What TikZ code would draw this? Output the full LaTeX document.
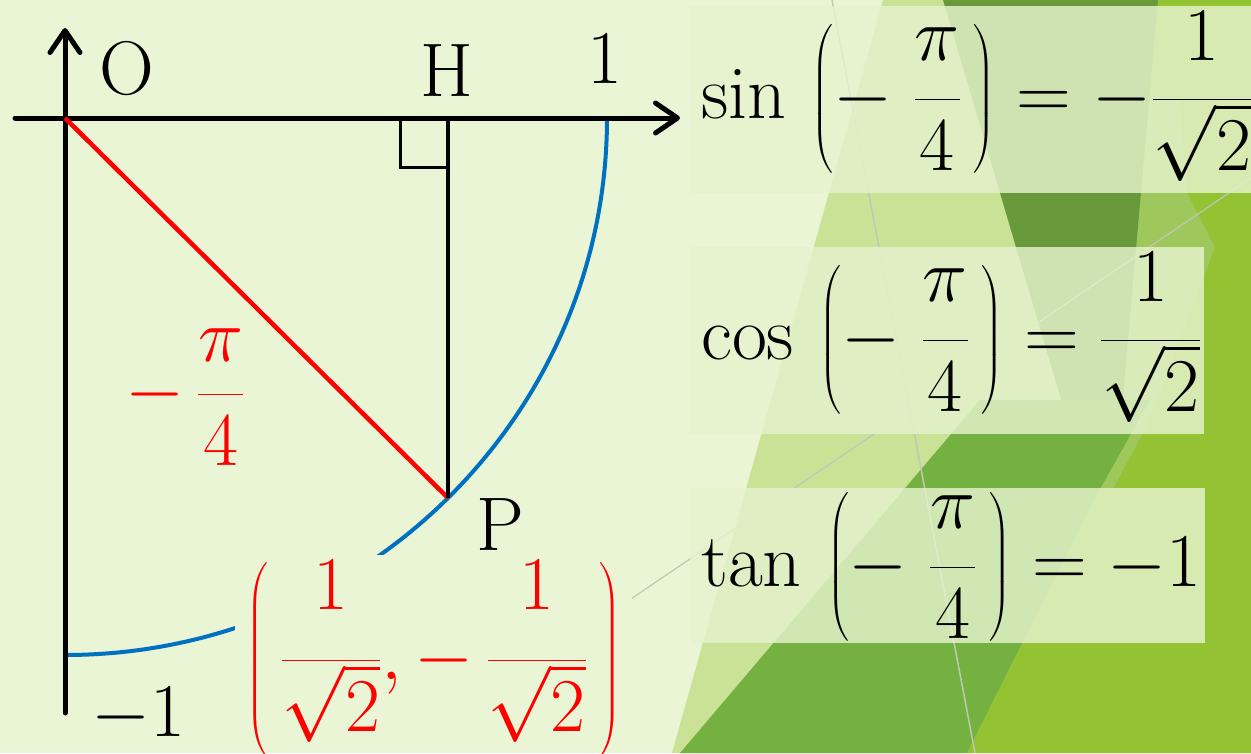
\RequirePackage{fix-cm}
\documentclass[tikz,border=0pt]{standalone}
\usepackage{amsmath}
\usepackage{fontspec}
\usetikzlibrary{arrows.meta}
\definecolor{bgc}{HTML}{EAF5D5}
\definecolor{pale}{HTML}{C9E296}
\definecolor{darkg}{HTML}{689A3B}
\definecolor{midg}{HTML}{74B141}
\definecolor{lg}{HTML}{9FC85C}
\definecolor{yg}{HTML}{93C232}
\definecolor{boxc}{HTML}{E6F3CD}
\definecolor{lineg}{HTML}{BFC7B7}
\definecolor{arcblue}{HTML}{0070C0}
\newcommand\labfont{\fontsize{76}{90}\selectfont}
\newcommand\frmfont{\fontsize{76}{90}\selectfont}
\newcommand\upn[2][6pt]{\raisebox{#1}{$\displaystyle #2$}}
\begin{document}
\begin{tikzpicture}[x=1pt,y=-1pt,
  lab/.style={inner sep=0pt, font=\labfont},
  frm/.style={inner sep=0pt, font=\frmfont, anchor=base west},
  redfrm/.style={frm, text=red},
  axisline/.style={line width=5pt, line cap=round, -{Straight Barb[length=22pt,width=30pt,round]}},
  tbox/.style={fill=boxc, fill opacity=0.82},
]
\useasboundingbox (0,0) rectangle (1251,753);
% background
\fill[bgc] (0,0) rectangle (1251,753);
\fill[pale] (883,0) -- (1251,0) -- (1251,753) -- (672,753) -- cycle;
\fill[yg] (1155,0) -- (1251,0) -- (1251,753) -- (967,753) -- (1110,470) -- (1133,247) -- cycle;
\fill[lg] (1140,100) -- (1180,100) -- (1187,193) -- (1215,247) -- (1150,420) -- (1113,489) -- (1090,489) -- (1127,247) -- cycle;
\fill[darkg] (943,0) -- (1158,0) -- (1120,430) -- (1070,430) -- cycle;
\fill[midg] (680,753) -- (967,753) -- (1100,489) -- (1150,400) -- (980,400) -- cycle;
\draw[lineg, line width=1.5pt] (832,0) -- (975,753);
\draw[lineg, line width=1.2pt] (600,620) -- (1251,178);
% formula boxes
\fill[tbox] (690,6) rectangle (1251,193);
\fill[tbox] (690,247) rectangle (1204,434);
\fill[tbox] (690,488) rectangle (1205,643);
% geometry
\coordinate (O) at (65,118);
\coordinate (H) at (448,118);
\coordinate (P) at (448,498);
\coordinate (A) at (607,118);
\coordinate (xs) at (15,118);
\coordinate (xe) at (680,118);
\coordinate (ys) at (65,713);
\coordinate (ye) at (65,28);
\coordinate (q1) at (400,118);
\coordinate (q2) at (400,167);
\coordinate (q3) at (448,167);
\draw[arcblue, line width=4pt] (A) arc[start angle=0, end angle=90, x radius=542, y radius=537];
% label box over the arc
\fill[bgc] (235,555) rectangle (632,753);
\draw[axisline] (xs) -- (xe);
\draw[axisline] (ys) -- (ye);
\draw[line width=3pt] (q1) -- (q2) -- (q3);
\draw[red, line width=4.5pt] (O) -- (P);
\draw[line width=4pt] (H) -- (P);
% labels
\node[lab] (lO) at (127,69) {O};
\node[lab] (lH) at (447,71) {H};
\node[lab] (l1) at (605,58) {1};
\node[lab] (lP) at (500,525) {P};
\node[lab] (lm) at (138,715) {$-1$};
\node[redfrm] (ang) at (125,413) {$\displaystyle -\,\frac{\pi}{4}$};
\node[redfrm] (coord) at (246,679) {$\displaystyle \left(\,\frac{\upn[18pt]{1}}{\sqrt{2}},-\,\frac{\upn[18pt]{1}}{\sqrt{2}}\,\right)$};
\node[frm] (fsin) at (701,118) {$\displaystyle \sin\,\left(-\;\frac{\upn{\pi}}{4}\,\right)=-\frac{\upn{1}}{\sqrt{2}}$};
\node[frm] (fcos) at (701,359) {$\displaystyle \cos\,\left(-\;\frac{\upn{\pi}}{4}\,\right)=\frac{\upn{1}}{\sqrt{2}}$};
\node[frm] (ftan) at (701,586) {$\displaystyle \tan\,\left(-\;\frac{\upn{\pi}}{4}\,\right)=-1$};
\end{tikzpicture}
\end{document}
